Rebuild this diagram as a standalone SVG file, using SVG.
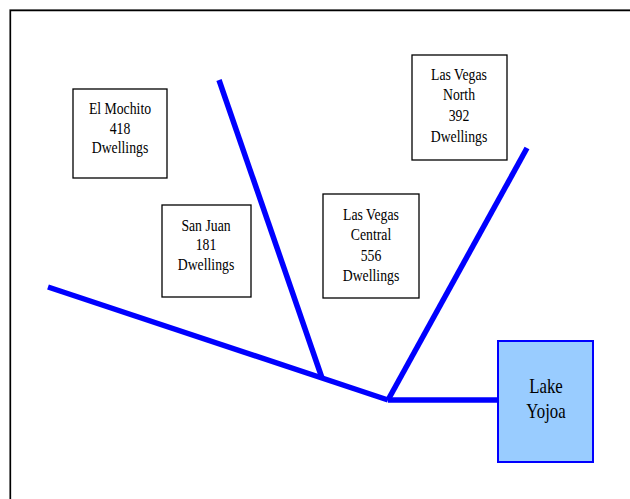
<svg xmlns="http://www.w3.org/2000/svg" width="630" height="499" viewBox="0 0 630 499">
<style>
.box{fill:#fff;stroke:#000;stroke-width:1.3}
.t{font-family:"Liberation Serif",serif;font-size:16px;fill:#000;text-anchor:middle}
.lt{font-family:"Liberation Serif",serif;font-size:20px;fill:#000;text-anchor:middle}
.pipe{stroke:#0000ff;stroke-width:5.5;fill:none;stroke-linecap:butt}
</style>
<rect width="630" height="499" fill="#fff"/>
<path d="M9.5 510 V9.5 H640" fill="none" stroke="#888" stroke-width="1"/>
<path d="M10.5 510 V10.5 H640" fill="none" stroke="#000" stroke-width="1.3"/>
<g id="connectors">
<path class="pipe" d="M48 287 L388 400"/>
<path class="pipe" d="M219 80 L322 378"/>
<path class="pipe" d="M388 400 L527 148"/>
<path class="pipe" d="M388 400 H498" stroke-width="6"/>
</g>
<g id="el-mochito">
<rect class="box" x="73" y="89" width="94" height="89"/>
<text class="t" transform="translate(120 114) scale(0.86 1)">El Mochito</text>
<text class="t" transform="translate(120 134) scale(0.86 1)">418</text>
<text class="t" transform="translate(120 153) scale(0.86 1)">Dwellings</text>
</g>
<g id="san-juan">
<rect class="box" x="162" y="205" width="89" height="92"/>
<text class="t" transform="translate(206 231) scale(0.86 1)">San Juan</text>
<text class="t" transform="translate(206 250) scale(0.86 1)">181</text>
<text class="t" transform="translate(206 270) scale(0.86 1)">Dwellings</text>
</g>
<g id="las-vegas-central">
<rect class="box" x="323" y="194" width="96" height="104"/>
<text class="t" transform="translate(371 220) scale(0.86 1)">Las Vegas</text>
<text class="t" transform="translate(371 240) scale(0.86 1)">Central</text>
<text class="t" transform="translate(371 261) scale(0.86 1)">556</text>
<text class="t" transform="translate(371 281) scale(0.86 1)">Dwellings</text>
</g>
<g id="las-vegas-north">
<rect class="box" x="412" y="55" width="95" height="105"/>
<text class="t" transform="translate(459 80) scale(0.86 1)">Las Vegas</text>
<text class="t" transform="translate(459 100) scale(0.86 1)">North</text>
<text class="t" transform="translate(459 121) scale(0.86 1)">392</text>
<text class="t" transform="translate(459 142) scale(0.86 1)">Dwellings</text>
</g>
<g id="lake-yojoa">
<rect x="498" y="341" width="95" height="121" fill="#99ccff" stroke="#0000ff" stroke-width="2"/>
<text class="lt" transform="translate(546 393) scale(0.84 1)">Lake</text>
<text class="lt" transform="translate(546 418) scale(0.84 1)">Yojoa</text>
</g>
</svg>
